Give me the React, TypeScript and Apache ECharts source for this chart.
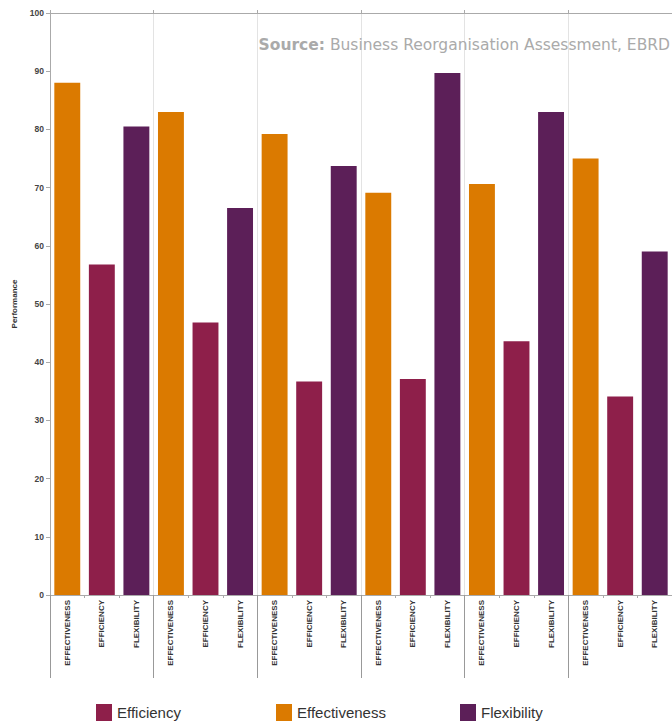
import React, { useEffect, useRef } from "react";
import * as echarts from "echarts";

const groupCount = 6;
const measures = ["EFFECTIVENESS", "EFFICIENCY", "FLEXIBILITY"];
const effectiveness = [88.0, 83.0, 79.2, 69.1, 70.6, 75.0];
const efficiency = [56.8, 46.8, 36.7, 37.1, 43.6, 34.1];
const flexibility = [80.5, 66.5, 73.7, 89.7, 83.0, 59.0];
const yTicks = { min: 0, max: 100, interval: 10 };

const COLORS = {
  Efficiency: "#8E1F4A",
  Effectiveness: "#DB7A00",
  Flexibility: "#5C1F58",
};

export default function App() {
  const ref = useRef<HTMLDivElement>(null);
  useEffect(() => {
    document.body.style.margin = "0";
    if (!ref.current) return;
    const chart = echarts.init(ref.current, null, { renderer: "svg" });

    const categories: string[] = [];
    for (let g = 0; g < groupCount; g++) categories.push(...measures);
    const slot = (vals: number[], pos: number) => {
      const out: (number | string)[] = [];
      for (let g = 0; g < groupCount; g++) {
        for (let m = 0; m < 3; m++) out.push(m === pos ? vals[g] : "-");
      }
      return out;
    };
    const groupCats = Array.from({ length: groupCount }, () => "");

    const gridBox = { left: 50, top: 13, bottom: 127, right: -2 };
    const legendText = { fontSize: 15, color: "#333", fontFamily: "Liberation Sans, Arial, sans-serif" };
    const legendBase = {
      top: 704,
      padding: 0,
      icon: "rect",
      itemWidth: 16,
      itemHeight: 17,
      textStyle: legendText,
      selectedMode: false,
    };

    chart.setOption({
      animation: false,
      grid: [
        { ...gridBox, containLabel: false },
        { ...gridBox, containLabel: false },
      ],
      xAxis: [
        {
          type: "category",
          gridIndex: 0,
          position: "bottom",
          data: categories,
          axisLine: { show: true, lineStyle: { color: "#aaa", width: 1 } },
          axisTick: { show: true, length: 3, lineStyle: { color: "#aaa" } },
          axisLabel: {
            rotate: 90,
            interval: 0,
            margin: 5,
            fontSize: 8,
            fontWeight: "bold",
            color: "#333",
            fontFamily: "Liberation Sans, Arial, sans-serif",
          },
          splitLine: { show: false },
        },
        {
          type: "category",
          gridIndex: 0,
          position: "top",
          data: groupCats,
          axisLine: { show: true, lineStyle: { color: "#aaa", width: 1 } },
          axisTick: { show: true, length: 3, lineStyle: { color: "#aaa" } },
          axisLabel: { show: false },
          splitLine: { show: true, lineStyle: { color: "#e3e3e3", width: 1 } },
        },
        {
          type: "category",
          gridIndex: 1,
          position: "bottom",
          data: groupCats,
          axisLine: { show: false },
          axisTick: { show: true, length: 83, lineStyle: { color: "#999", width: 1 } },
          axisLabel: { show: false },
          splitLine: { show: false },
        },
      ],
      yAxis: [
        {
          type: "value",
          gridIndex: 0,
          min: yTicks.min,
          max: yTicks.max,
          interval: yTicks.interval,
          name: "Performance",
          nameLocation: "middle",
          nameGap: 32,
          nameTextStyle: {
            fontSize: 8,
            fontWeight: "bold",
            color: "#333",
            fontFamily: "Liberation Sans, Arial, sans-serif",
          },
          axisLine: { show: true, lineStyle: { color: "#aaa", width: 1 } },
          axisTick: { show: true, length: 4, lineStyle: { color: "#aaa" } },
          axisLabel: {
            margin: 6,
            fontSize: 8.5,
            fontWeight: "bold",
            color: "#444",
            fontFamily: "Liberation Sans, Arial, sans-serif",
          },
          splitLine: { show: false },
        },
        {
          type: "value",
          gridIndex: 1,
          min: 0,
          max: 100,
          show: false,
        },
      ],
      legend: [
        { ...legendBase, data: ["Efficiency"], left: 96 },
        { ...legendBase, data: ["Effectiveness"], left: 276 },
        { ...legendBase, data: ["Flexibility"], left: 460 },
      ],
      graphic: [
        {
          type: "text",
          right: 2,
          top: 37,
          z: 10,
          style: {
            text: "{b|Source:} Business Reorganisation Assessment, EBRD",
            fontSize: 15.5,
            fill: "#aaa",
            fontFamily: "DejaVu Sans, sans-serif",
            rich: {
              b: {
                fontSize: 15.5,
                fontWeight: "bold",
                fill: "#aaa",
                fontFamily: "DejaVu Sans, sans-serif",
              },
            },
          },
        },
      ],
      series: [
        {
          name: "Effectiveness",
          type: "bar",
          xAxisIndex: 0,
          yAxisIndex: 0,
          data: slot(effectiveness, 0),
          barGap: "-100%",
          barCategoryGap: "25%",
          itemStyle: { color: COLORS.Effectiveness },
        },
        {
          name: "Efficiency",
          type: "bar",
          xAxisIndex: 0,
          yAxisIndex: 0,
          data: slot(efficiency, 1),
          barGap: "-100%",
          barCategoryGap: "25%",
          itemStyle: { color: COLORS.Efficiency },
        },
        {
          name: "Flexibility",
          type: "bar",
          xAxisIndex: 0,
          yAxisIndex: 0,
          data: slot(flexibility, 2),
          barGap: "-100%",
          barCategoryGap: "25%",
          itemStyle: { color: COLORS.Flexibility },
        },
      ],
    });
    return () => chart.dispose();
  }, []);
  return (
    <div
      ref={ref}
      style={{ position: "absolute", left: 0, top: 0, width: 672, height: 722 }}
    />
  );
}
